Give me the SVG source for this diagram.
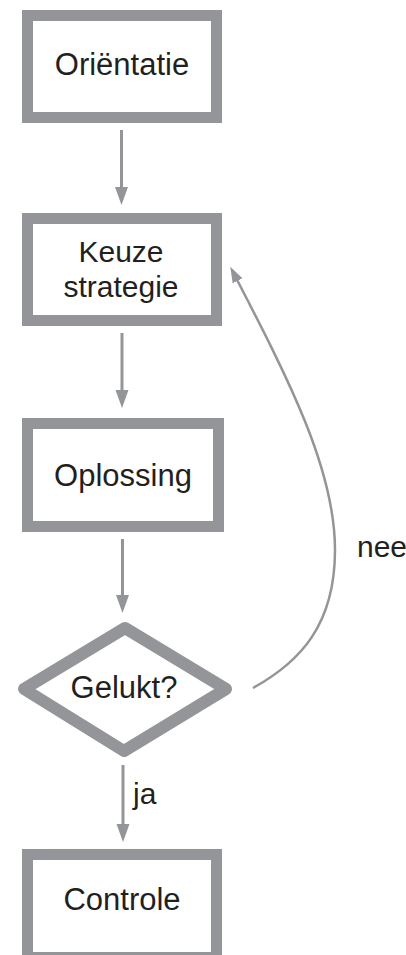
<svg xmlns="http://www.w3.org/2000/svg" width="406" height="955" viewBox="0 0 406 955">
  <style>
    .box { fill: #ffffff; stroke: #939598; stroke-width: 11; }
    .dia { fill: #ffffff; stroke: #939598; stroke-width: 12; stroke-linejoin: round; }
    .lbl { font-family: "Liberation Sans", Arial, sans-serif; font-size: 31px; fill: #231f20; text-anchor: middle; }
    .lbl2 { font-size: 30px; }
    .side { font-family: "Liberation Sans", Arial, sans-serif; font-size: 30px; fill: #231f20; }
    .conn { fill: none; stroke: #939598; stroke-width: 3; }
    .curve { fill: none; stroke: #939598; stroke-width: 2.5; }
  </style>
  <defs>
    <marker id="ah" markerUnits="userSpaceOnUse" markerWidth="20" markerHeight="14" refX="12" refY="6.5" orient="auto">
      <path d="M0,0 L18,6.5 L0,13 z" fill="#939598"/>
    </marker>
    <marker id="ahs" markerUnits="userSpaceOnUse" markerWidth="18" markerHeight="12" refX="10" refY="5.5" orient="auto">
      <path d="M0,0 L16,5.5 L0,11 z" fill="#939598"/>
    </marker>
  </defs>

  <g id="connectors">
    <line class="conn" x1="121.5" y1="130" x2="121.5" y2="199" marker-end="url(#ah)"/>
    <line class="conn" x1="122" y1="333" x2="122" y2="402" marker-end="url(#ah)"/>
    <line class="conn" x1="122.5" y1="539" x2="122.5" y2="607" marker-end="url(#ah)"/>
    <line class="conn" x1="123" y1="765" x2="123" y2="836" marker-end="url(#ah)"/>
    <path class="curve" d="M253,688 C300,662 335,625 335,550 C335,470 290,382 233,272" marker-end="url(#ahs)"/>
    <text class="side" x="133" y="804">ja</text>
    <text class="side" x="357" y="557">nee</text>
  </g>

  <g id="orientatie">
    <rect class="box" x="27.5" y="15.5" width="189" height="102"/>
    <text class="lbl" x="122" y="75">Oriëntatie</text>
  </g>

  <g id="keuze-strategie">
    <rect class="box" x="27.5" y="218.5" width="189" height="102"/>
    <text class="lbl lbl2" x="121" y="262">Keuze</text>
    <text class="lbl lbl2" x="121" y="297">strategie</text>
  </g>

  <g id="oplossing">
    <rect class="box" x="27.5" y="423.5" width="191" height="103"/>
    <text class="lbl" x="123" y="486">Oplossing</text>
  </g>

  <g id="gelukt">
    <polygon class="dia" points="24,689 125,628 226,689 124,751"/>
    <text class="lbl" x="124" y="698">Gelukt?</text>
  </g>

  <g id="controle">
    <rect class="box" x="27.5" y="854.5" width="189" height="103"/>
    <text class="lbl" x="122" y="910">Controle</text>
  </g>
</svg>
